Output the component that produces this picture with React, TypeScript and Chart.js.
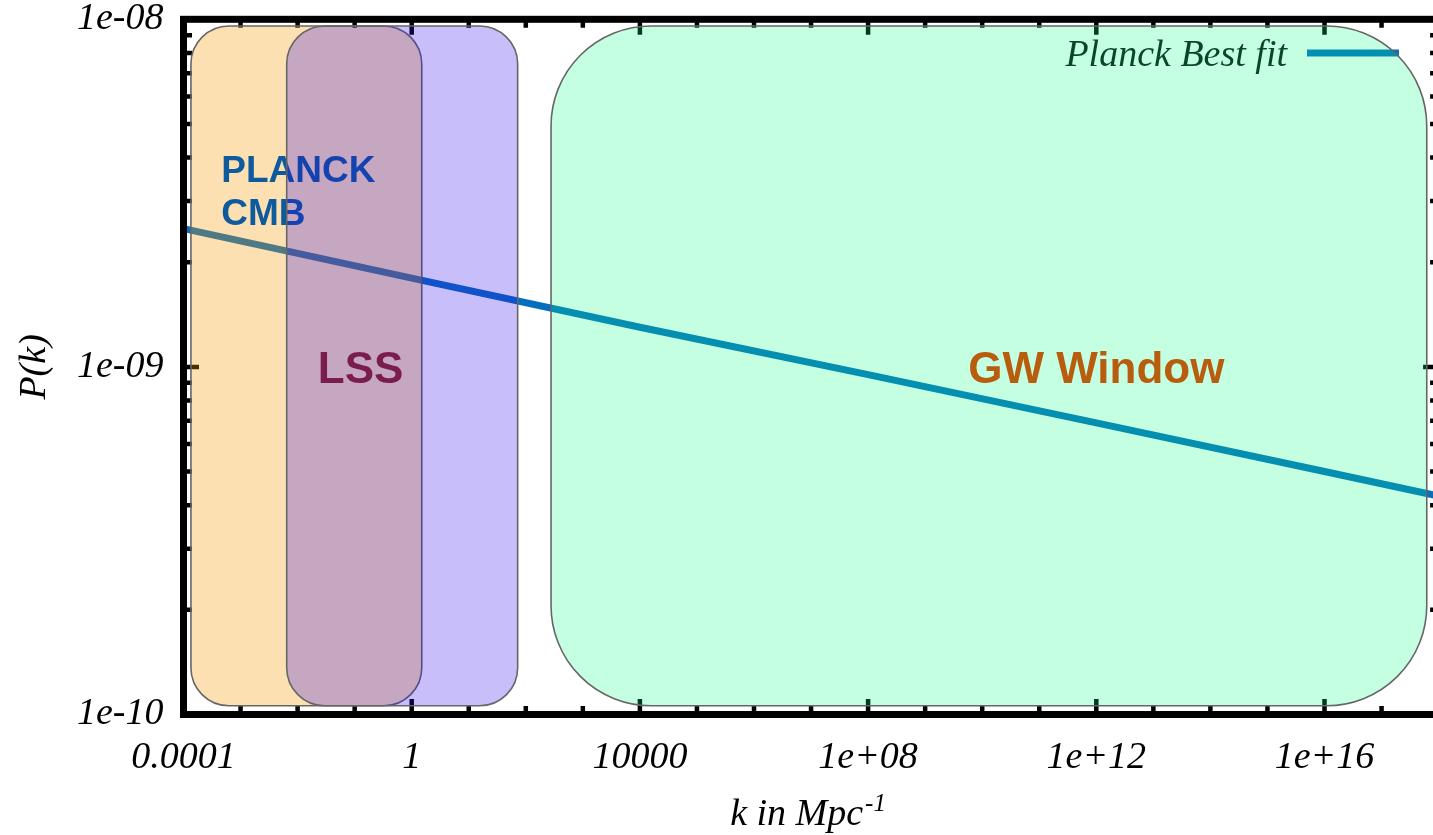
import { useEffect, useRef } from "react";
import { Chart, registerables } from "chart.js";

Chart.register(...registerables);

// Primordial power spectrum P(k), Planck best fit (k in Mpc^-1)
const kValues = [1e-4, 1, 1e4, 1e8, 1e12, 1e16, 1e18];
const pValues = [2.5e-9, 1.8e-9, 1.3e-9, 9.5e-10, 6.9e-10, 5.0e-10, 4.25e-10];
const seriesName = "Planck Best fit";

// Axis ranges and labelled ticks
const kMin = 1e-4;
const kMax = 1e18;
const pMin = 1e-10;
const pMax = 1e-8;
const xTickValues = [1e-4, 1, 1e4, 1e8, 1e12, 1e16];
const xTickLabels = ["0.0001", "1", "10000", "1e+08", "1e+12", "1e+16"];
const yTickValues = [1e-10, 1e-9, 1e-8];
const yTickLabels = ["1e-10", "1e-09", "1e-08"];

// Observational windows: k span and P(k) span of each shaded region
const windowNames = ["PLANCK CMB", "LSS", "GW Window"];
const windowKLow = [1.35e-4, 6.44e-3, 277];
const windowKHigh = [1.5, 72, 6.2e17];
const windowPLow = [1.06e-10, 1.06e-10, 1.06e-10];
const windowPHigh = [9.57e-9, 9.57e-9, 9.57e-9];
// Where each window's name sits (k, P)
const nameK = [4.6e-4, 0.127, 1e12];
const nameP = [3.23e-9, 1e-9, 1e-9];

const SERIF = "'Liberation Serif', 'Times New Roman', serif";
const SANS = "'Liberation Sans', Arial, sans-serif";
const LINE_COLOR = "#066ebe";

const CANVAS_W = 1460;
const CANVAS_H = 835;

function roundedRect(ctx: CanvasRenderingContext2D, x0: number, y0: number, x1: number, y1: number, r: number) {
  ctx.beginPath();
  ctx.moveTo(x0 + r, y0);
  ctx.lineTo(x1 - r, y0);
  ctx.arcTo(x1, y0, x1, y0 + r, r);
  ctx.lineTo(x1, y1 - r);
  ctx.arcTo(x1, y1, x1 - r, y1, r);
  ctx.lineTo(x0 + r, y1);
  ctx.arcTo(x0, y1, x0, y1 - r, r);
  ctx.lineTo(x0, y0 + r);
  ctx.arcTo(x0, y0, x0 + r, y0, r);
  ctx.closePath();
}

const frameAndWindows = {
  id: "frameAndWindows",
  afterDraw(chart: any) {
    const { ctx, chartArea: a, scales } = chart;
    const xs = scales.x;
    const ys = scales.y;
    ctx.save();

    // inward tick marks
    ctx.strokeStyle = "#000";
    ctx.lineWidth = 4.5;
    ctx.lineCap = "butt";
    const major = 15.5;
    const minor = 8.5;
    for (let e = -4; e < 18; e++) {
      const px = xs.getPixelForValue(Math.pow(10, e));
      const len = (e + 4) % 4 === 0 ? major : minor;
      ctx.beginPath();
      ctx.moveTo(px, a.bottom);
      ctx.lineTo(px, a.bottom - len);
      ctx.moveTo(px, a.top);
      ctx.lineTo(px, a.top + len);
      ctx.stroke();
    }
    for (let e = -10; e <= -8; e++) {
      for (let m = 1; m <= 9; m++) {
        if (e === -8 && m > 1) break;
        const py = ys.getPixelForValue(m * Math.pow(10, e));
        const len = m === 1 ? major : minor;
        ctx.beginPath();
        ctx.moveTo(a.left, py);
        ctx.lineTo(a.left + len, py);
        ctx.moveTo(a.right, py);
        ctx.lineTo(a.right - len, py);
        ctx.stroke();
      }
    }

    // frame
    ctx.lineWidth = 7;
    ctx.strokeRect(a.left, a.top, a.right - a.left, a.bottom - a.top);

    // axis titles
    ctx.fillStyle = "#000";
    ctx.textBaseline = "alphabetic";
    ctx.font = `italic 38px ${SERIF}`;
    const t1 = "k in Mpc";
    const w1 = ctx.measureText(t1).width;
    ctx.font = `italic 25px ${SERIF}`;
    const t2 = "-1";
    const w2 = ctx.measureText(t2).width;
    const cx = (a.left + a.right) / 2 - 3;
    const startX = cx - (w1 + w2 + 2) / 2;
    ctx.font = `italic 38px ${SERIF}`;
    ctx.textAlign = "left";
    ctx.fillText(t1, startX, 825);
    ctx.font = `italic 25px ${SERIF}`;
    ctx.fillText(t2, startX + w1 + 2, 811);

    ctx.save();
    ctx.translate(45, (a.top + a.bottom) / 2);
    ctx.rotate(-Math.PI / 2);
    ctx.font = `italic 38px ${SERIF}`;
    ctx.textAlign = "center";
    ctx.fillText("P(k)", 0, 0);
    ctx.restore();

    // legend
    ctx.font = `italic 38px ${SERIF}`;
    ctx.textAlign = "right";
    ctx.fillStyle = "#0a0f12";
    ctx.fillText(seriesName, 1287, 66);
    ctx.strokeStyle = LINE_COLOR;
    ctx.lineWidth = 7;
    ctx.beginPath();
    ctx.moveTo(1307, 53);
    ctx.lineTo(1399, 53);
    ctx.stroke();

    // shaded observational windows
    const box = (i: number, fill: string, r: number) => {
      const x0 = xs.getPixelForValue(windowKLow[i]);
      const x1 = xs.getPixelForValue(windowKHigh[i]);
      const y0 = ys.getPixelForValue(windowPHigh[i]);
      const y1 = ys.getPixelForValue(windowPLow[i]);
      roundedRect(ctx, x0, y0, x1, y1, r);
      ctx.fillStyle = fill;
      ctx.fill();
      ctx.strokeStyle = "#666666";
      ctx.lineWidth = 1.6;
      ctx.stroke();
    };
    const label = (i: number, color: string, size: number, align: CanvasTextAlign) => {
      ctx.font = `bold ${size}px ${SANS}`;
      ctx.fillStyle = color;
      ctx.textAlign = align;
      const x = xs.getPixelForValue(nameK[i]);
      const y = ys.getPixelForValue(nameP[i]);
      const lines = windowNames[i].split(" ");
      const cap = size * 0.716;
      if (align === "left") {
        const gap = 43;
        const firstBase = y - ((lines.length - 1) * gap) / 2 + cap / 2;
        lines.forEach((ln, j) => ctx.fillText(ln, x, firstBase + j * gap));
      } else {
        ctx.fillText(windowNames[i], x, y + cap / 2);
      }
    };

    box(0, "rgba(248,152,0,0.3)", 38);
    label(0, "#0d5a9c", 37, "left");
    box(1, "rgba(42,5,235,0.26)", 38);
    box(2, "rgba(0,255,128,0.23)", 100);
    label(1, "#7b1c4f", 44, "center");
    label(2, "#b85c0e", 44, "center");

    ctx.restore();
  },
};

export default function App() {
  const canvasRef = useRef<HTMLCanvasElement | null>(null);

  useEffect(() => {
    const canvas = canvasRef.current;
    if (!canvas) return;
    const chartAreaRight = 1438.6;
    const chart = new Chart(canvas, {
      type: "line",
      data: {
        datasets: [
          {
            label: seriesName,
            data: kValues.map((k, i) => ({ x: k, y: pValues[i] })),
            borderColor: LINE_COLOR,
            borderWidth: 7,
            pointRadius: 0,
            tension: 0,
            fill: false,
          },
        ],
      },
      options: {
        animation: false,
        responsive: false,
        devicePixelRatio: 1,
        layout: { padding: { top: 19.3, right: CANVAS_W - chartAreaRight, left: 0, bottom: 0 } },
        plugins: { legend: { display: false }, tooltip: { enabled: false } },
        scales: {
          x: {
            type: "logarithmic",
            min: kMin,
            max: kMax,
            grid: { display: false, drawTicks: false },
            border: { display: false },
            afterBuildTicks: (s: any) => {
              s.ticks = xTickValues.map((v) => ({ value: v }));
            },
            afterFit: (s: any) => {
              s.height = CANVAS_H - 714.5;
              s.paddingLeft = 0;
              s.paddingRight = 0;
            },
            ticks: {
              autoSkip: false,
              maxRotation: 0,
              minRotation: 0,
              padding: 21,
              color: "#000",
              font: { family: SERIF, size: 38, style: "italic" },
              callback: (_v: any, i: number) => xTickLabels[i],
            },
          },
          y: {
            type: "logarithmic",
            min: pMin,
            max: pMax,
            grid: { display: false, drawTicks: false },
            border: { display: false },
            afterBuildTicks: (s: any) => {
              s.ticks = yTickValues.map((v) => ({ value: v }));
            },
            afterFit: (s: any) => {
              s.width = 183.5;
              s.paddingTop = 0;
              s.paddingBottom = 0;
            },
            ticks: {
              autoSkip: false,
              padding: 20,
              color: "#000",
              font: { family: SERIF, size: 38, style: "italic", lineHeight: 1 },
              callback: (_v: any, i: number) => yTickLabels[i],
            },
          },
        },
      },
      plugins: [frameAndWindows],
    } as any);
    return () => chart.destroy();
  }, []);

  return (
    <div
      style={{
        position: "fixed",
        left: 0,
        top: 0,
        width: 1433,
        height: 835,
        overflow: "hidden",
        background: "#fff",
      }}
    >
      <canvas ref={canvasRef} width={CANVAS_W} height={CANVAS_H} style={{ display: "block" }} />
    </div>
  );
}
